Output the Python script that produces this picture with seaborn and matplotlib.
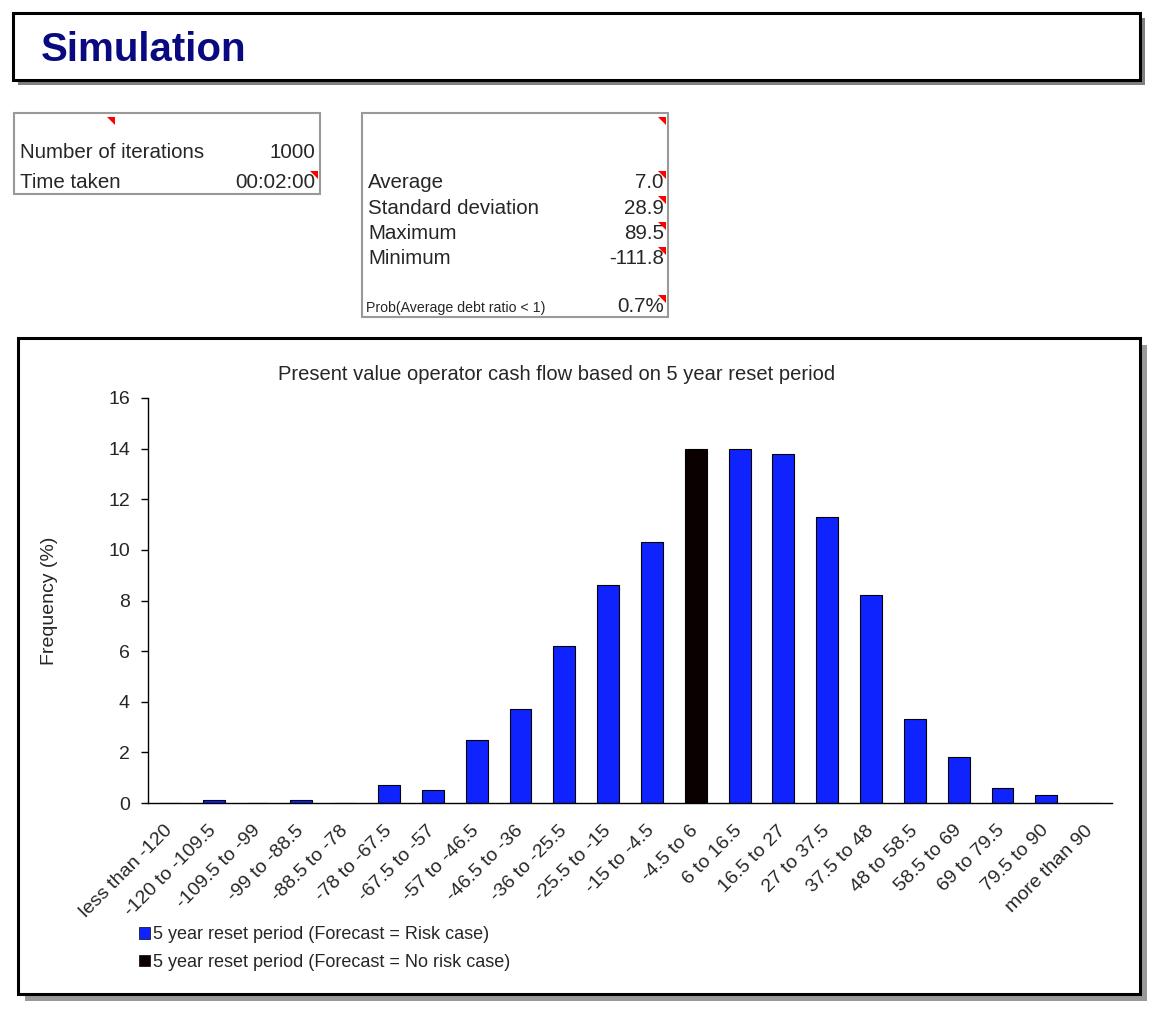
import matplotlib
matplotlib.use("Agg")
import matplotlib.pyplot as plt
from matplotlib.patches import Rectangle, Polygon, Patch
import seaborn as sns
import pandas as pd

# ---- data ----
categories = ["less than -120", "-120 to -109.5", "-109.5 to -99", "-99 to -88.5",
              "-88.5 to -78", "-78 to -67.5", "-67.5 to -57", "-57 to -46.5",
              "-46.5 to -36", "-36 to -25.5", "-25.5 to -15", "-15 to -4.5",
              "-4.5 to 6", "6 to 16.5", "16.5 to 27", "27 to 37.5", "37.5 to 48",
              "48 to 58.5", "58.5 to 69", "69 to 79.5", "79.5 to 90", "more than 90"]
risk_case = [0.0, 0.1, 0.0, 0.1, 0.0, 0.7, 0.5, 2.5, 3.7, 6.2, 8.6, 10.3,
             None, 14.0, 13.8, 11.3, 8.2, 3.3, 1.8, 0.6, 0.3, 0.0]
no_risk_case_category = ["-4.5 to 6"]
no_risk_case = [14.0]
series_names = ["5 year reset period (Forecast = Risk case)",
                "5 year reset period (Forecast = No risk case)"]
y_ticks = [0, 2, 4, 6, 8, 10, 12, 14, 16]

stats1_labels = ["Number of iterations", "Time taken"]
stats1_values = ["1000", "00:02:00"]
stats2_labels = ["Average", "Standard deviation", "Maximum", "Minimum"]
stats2_values = ["7.0", "28.9", "89.5", "-111.8"]
prob_label = "Prob(Average debt ratio < 1)"
prob_value = "0.7%"

rows = []
for c, v in zip(categories, risk_case):
    if v is not None:
        rows.append({"cat": c, "val": v, "series": series_names[0]})
for c, v in zip(no_risk_case_category, no_risk_case):
    rows.append({"cat": c, "val": v, "series": series_names[1]})
df = pd.DataFrame(rows)

# ---- figure ----
sns.set_theme(style="white")
plt.rcParams["font.family"] = ["Liberation Sans", "DejaVu Sans"]

W, H = 1160, 1014
fig = plt.figure(figsize=(W / 100, H / 100), dpi=100)
fig.patch.set_facecolor("white")


def fx(x):
    return x / W


def fy(y):
    return 1 - y / H


def rect(x0, y0, x1, y1, **kw):
    r = Rectangle((fx(x0), fy(y1)), fx(x1) - fx(x0), fy(y0) - fy(y1),
                  transform=fig.transFigure, **kw)
    fig.add_artist(r)
    return r


def red_tri(x, y, s=8):
    p = Polygon([(fx(x - s), fy(y)), (fx(x), fy(y)), (fx(x), fy(y + s))],
                closed=True, transform=fig.transFigure, color="#ff0000",
                zorder=4, lw=0)
    fig.add_artist(p)


# title box
rect(18, 18, 1145, 85, facecolor="#808080", edgecolor="none", zorder=0.05)
rect(13, 13, 1140, 80, facecolor="white", edgecolor="black", lw=2.2, zorder=0.1)
fig.text(fx(41), fy(50), "Simulation", fontsize=29, fontweight="bold",
         color="#0a0a80", ha="left", va="center", zorder=3)

# stats box 1
rect(14, 113, 320, 194, facecolor="white", edgecolor="#999999", lw=1.5, zorder=0.1)
for i, (lab, val) in enumerate(zip(stats1_labels, stats1_values)):
    yy = 153 + 30 * i
    fig.text(fx(20), fy(yy), lab, fontsize=14.8, ha="left", va="center", zorder=3)
    fig.text(fx(315), fy(yy), val, fontsize=14.8, ha="right", va="center", zorder=3)
red_tri(115, 117)
red_tri(318, 171)

# stats box 2
rect(362, 113, 668, 317, facecolor="white", edgecolor="#999999", lw=1.5, zorder=0.1)
for i, (lab, val) in enumerate(zip(stats2_labels, stats2_values)):
    yy = 183 + 25.3 * i
    fig.text(fx(368), fy(yy), lab, fontsize=14.8, ha="left", va="center", zorder=3)
    fig.text(fx(664), fy(yy), val, fontsize=14.8, ha="right", va="center", zorder=3)
    red_tri(666, yy - 12)
fig.text(fx(366), fy(308), prob_label, fontsize=10.2, ha="left", va="center", zorder=3)
fig.text(fx(664), fy(306), prob_value, fontsize=14.8, ha="right", va="center", zorder=3)
red_tri(666, 117)
red_tri(666, 295)

# chart box
rect(25, 345, 1147, 1001, facecolor="#999999", edgecolor="none", zorder=0.05)
rect(18, 338, 1140, 994, facecolor="white", edgecolor="black", lw=2.2, zorder=0.1)

# ---- axes ----
ax = fig.add_axes([fx(148), fy(803), fx(1112) - fx(148), fy(398) - fy(803)])
ax.set_zorder(1)
ax.patch.set_alpha(0)

sns.barplot(data=df, x="cat", y="val", hue="series", order=categories,
            hue_order=series_names, palette=["#0f23ff", "#0a0000"],
            dodge=False, width=0.5, edgecolor="black", linewidth=0.8,
            saturation=1, ax=ax, legend=False)

ax.set_xlim(-0.5, len(categories) - 0.5)
ax.set_ylim(0, 16)
ax.set_yticks(y_ticks)
ax.set_yticklabels([str(t) for t in y_ticks], fontsize=14)
ax.set_xticks(range(len(categories)))
ax.set_xticklabels(categories, rotation=45, ha="right", va="center",
                   rotation_mode="anchor", fontsize=14)
ax.set_xticks([i - 0.5 for i in range(len(categories) + 1)], minor=True)
ax.tick_params(axis="x", which="major", length=0, pad=18)
ax.tick_params(axis="x", which="minor", length=6, width=1, color="black", direction="out")
ax.tick_params(axis="y", which="major", length=5, width=1, color="black",
               direction="out", pad=8, left=True)
ax.set_xlabel("")
ax.set_ylabel("Frequency (%)", fontsize=14, labelpad=36)
for s in ["top", "right"]:
    ax.spines[s].set_visible(False)
for s in ["left", "bottom"]:
    ax.spines[s].set_visible(True)
    ax.spines[s].set_color("black")
    ax.spines[s].set_linewidth(1)
ax.grid(False)

fig.text(fx(557), fy(375), "Present value operator cash flow based on 5 year reset period",
         fontsize=14.5, ha="center", va="center", zorder=3)

handles = [Patch(facecolor="#0f23ff", edgecolor="black", lw=0.5),
           Patch(facecolor="#0a0000", edgecolor="black", lw=0.5)]
leg = fig.legend(handles, series_names, loc="upper left",
                 bbox_to_anchor=(fx(132), fy(919)), frameon=False,
                 fontsize=13, handlelength=0.6, handleheight=0.6,
                 handletextpad=0.15, labelspacing=0.6, borderaxespad=0)
leg.set_zorder(3)

fig.savefig("out.png", dpi=100, facecolor="white")
